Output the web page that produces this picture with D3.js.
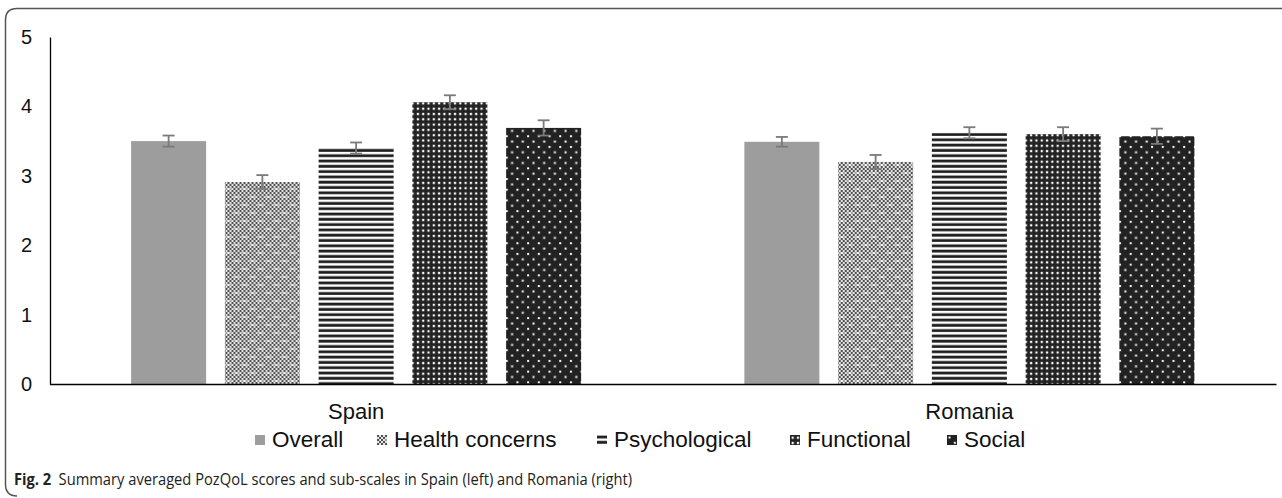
<!DOCTYPE html>
<html>
<head>
<meta charset="utf-8">
<script src="https://cdn.jsdelivr.net/npm/d3@7"></script>
<style>
  html, body { margin: 0; padding: 0; background: #fff; }
  svg { display: block; }
</style>
</head>
<body>
<svg id="chart" width="1282" height="498"></svg>
<script>
// Countries on the x axis
const countries = ["Spain", "Romania"];
// PozQoL sub-scales (legend order)
const scales = ["Overall", "Health concerns", "Psychological", "Functional", "Social"];
// Mean scores per country, in sub-scale order
const spainMeans = [3.50, 2.91, 3.40, 4.06, 3.69];
const romaniaMeans = [3.49, 3.20, 3.62, 3.60, 3.57];
// Error-bar half widths
const spainErr = [0.08, 0.10, 0.08, 0.10, 0.11];
const romaniaErr = [0.07, 0.10, 0.08, 0.10, 0.11];
// Y axis tick values
const yTicks = [0, 1, 2, 3, 4, 5];

const FONT = "'Liberation Sans', Arial, sans-serif";
const svg = d3.select("#chart");
const defs = svg.append("defs");

// ---- fill patterns ----
// Health concerns: grey checkerboard with faint light flecks
(function () {
  const p = defs.append("pattern").attr("id", "pHealth")
    .attr("patternUnits", "userSpaceOnUse").attr("width", 16).attr("height", 16);
  p.append("rect").attr("width", 16).attr("height", 16).attr("fill", "#e4e4e4");
  for (let i = 0; i < 8; i++) {
    for (let j = 0; j < 8; j++) {
      if ((i + j) % 2 === 0) {
        const soft = (i === 4 && j === 2) || (i === 6 && j === 2) || (i === 0 && j === 6) || (i === 2 && j === 6);
        p.append("rect").attr("x", i * 2).attr("y", j * 2)
          .attr("width", 2).attr("height", 2).attr("fill", soft ? "#9a9a9a" : "#525252");
      }
    }
  }
  p.append("rect").attr("x", 10).attr("y", 4).attr("width", 2).attr("height", 2).attr("fill", "#fff");
  p.append("rect").attr("x", 2).attr("y", 12).attr("width", 2).attr("height", 2).attr("fill", "#fff");
})();
// Psychological: horizontal stripes
(function () {
  const p = defs.append("pattern").attr("id", "pPsych")
    .attr("patternUnits", "userSpaceOnUse").attr("width", 8).attr("height", 5.3);
  p.append("rect").attr("width", 8).attr("height", 5.3).attr("fill", "#fff");
  p.append("rect").attr("y", 0.6).attr("width", 8).attr("height", 2.8).attr("fill", "#1e1e1e");
})();
// Functional: dark with dense white squares
(function () {
  const p = defs.append("pattern").attr("id", "pFunc")
    .attr("patternUnits", "userSpaceOnUse").attr("width", 5.3).attr("height", 5.3);
  p.append("rect").attr("width", 5.3).attr("height", 5.3).attr("fill", "#222");
  p.append("rect").attr("x", 1.6).attr("y", 1.6).attr("width", 2.2).attr("height", 2.2).attr("fill", "#fff");
})();
// Social: dark with sparse staggered white dots
(function () {
  const p = defs.append("pattern").attr("id", "pSocial")
    .attr("patternUnits", "userSpaceOnUse").attr("width", 10.7).attr("height", 10.7);
  p.append("rect").attr("width", 10.7).attr("height", 10.7).attr("fill", "#222");
  p.append("rect").attr("x", 1.5).attr("y", 1.5).attr("width", 2).attr("height", 2).attr("fill", "#fff");
  p.append("rect").attr("x", 6.85).attr("y", 6.85).attr("width", 2).attr("height", 2).attr("fill", "#fff");
})();

const fills = ["#9d9d9d", "url(#pHealth)", "url(#pPsych)", "url(#pFunc)", "url(#pSocial)"];

// ---- card frame ----
svg.append("path")
  .attr("d", "M1290,8.5 L17,8.5 Q5.5,8.5 5.5,20 L5.5,484 Q5.5,496 17,496")
  .attr("fill", "none").attr("stroke", "#555").attr("stroke-width", 1.5);

// ---- scales ----
const x0 = d3.scaleBand().domain(countries).range([49.5, 1276]).paddingInner(0).paddingOuter(0);
const groupWidth = 450;
const x1 = d3.scaleBand().domain(scales)
  .range([(x0.bandwidth() - groupWidth) / 2, (x0.bandwidth() + groupWidth) / 2])
  .paddingInner(0.2).paddingOuter(0);
const y = d3.scaleLinear().domain([0, 5]).range([384, 37]);

// ---- y axis ----
const yAxis = svg.append("g").attr("transform", "translate(50,0)")
  .call(d3.axisLeft(y).tickValues(yTicks).tickFormat(d3.format("d")).tickSize(0).tickPadding(18));
yAxis.select(".domain").attr("stroke", "#000").attr("stroke-width", 1.3);
yAxis.selectAll("text").style("font-family", FONT).style("font-size", "20px").attr("fill", "#111");

// ---- bars ----
const data = countries.map((c, ci) => ({
  country: c,
  values: scales.map((s, si) => ({
    scale: s, si,
    mean: ci === 0 ? spainMeans[si] : romaniaMeans[si],
    err: ci === 0 ? spainErr[si] : romaniaErr[si]
  }))
}));

const groups = svg.append("g").selectAll("g").data(data).join("g")
  .attr("transform", d => `translate(${x0(d.country)},0)`);

groups.selectAll("rect").data(d => d.values).join("rect")
  .attr("x", d => x1(d.scale))
  .attr("width", x1.bandwidth())
  .attr("y", d => y(d.mean))
  .attr("height", d => y(0) - y(d.mean))
  .attr("fill", d => fills[d.si]);

// error bars
const cx = d => x1(d.scale) + x1.bandwidth() / 2;
const eb = groups.selectAll("g.eb").data(d => d.values).join("g").attr("class", "eb")
  .attr("stroke", "#7a7a7a").attr("stroke-width", 1.8);
eb.append("line")
  .attr("x1", cx).attr("x2", cx)
  .attr("y1", d => y(d.mean + d.err)).attr("y2", d => y(d.mean - d.err));
eb.append("line")
  .attr("x1", d => cx(d) - 6).attr("x2", d => cx(d) + 6)
  .attr("y1", d => y(d.mean + d.err)).attr("y2", d => y(d.mean + d.err));
eb.append("line")
  .attr("x1", d => cx(d) - 6).attr("x2", d => cx(d) + 6)
  .attr("y1", d => y(d.mean - d.err)).attr("y2", d => y(d.mean - d.err));

// ---- x axis ----
const xAxis = svg.append("g").attr("transform", "translate(0,384)")
  .call(d3.axisBottom(x0).tickSize(0).tickPadding(19));
xAxis.select(".domain").attr("stroke", "#000").attr("stroke-width", 1.3);
xAxis.selectAll("text").style("font-family", FONT).style("font-size", "22px").attr("fill", "#111");

// ---- legend ----
const legendX = [255, 377, 597, 790, 947];
const legend = svg.append("g").style("font-family", FONT);
scales.forEach((s, i) => {
  const g = legend.append("g").attr("transform", `translate(${legendX[i]},435)`);
  g.append("rect").attr("width", 10).attr("height", 10).attr("y", 0).attr("fill", fills[i]);
  g.append("text").attr("x", 17).attr("y", 12).style("font-size", "22.5px").attr("fill", "#111").text(s);
});

// ---- caption ----
const cap = svg.append("text").attr("x", 14).attr("y", 485)
  .style("font-family", "'Open Sans', 'Noto Sans', sans-serif").style("font-size", "16px").attr("fill", "#222");
cap.append("tspan").attr("font-weight", "bold").text("Fig. 2");
cap.append("tspan").attr("dx", 8).text("Summary averaged PozQoL scores and sub-scales in Spain (left) and Romania (right)");
cap.attr("textLength", 618).attr("lengthAdjust", "spacingAndGlyphs");
</script>
</body>
</html>
